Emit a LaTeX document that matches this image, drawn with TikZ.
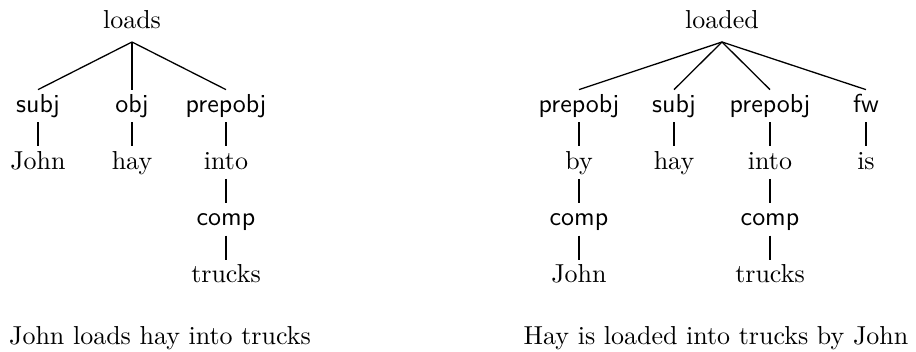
\documentclass[tikz,border=0pt]{standalone}
\usepackage{tikz}
\usetikzlibrary{positioning}

\begin{document}
\begin{tikzpicture}[x=0.385pt, y=-0.385pt,
  word/.style={font=\rmfamily, inner sep=1.6pt, text height=7pt, text depth=2pt},
  head/.style={word, inner sep=3pt},
  rel/.style={word, font=\sffamily},
  edge/.style={line width=0.5pt},
  node distance=9.2pt]
  \useasboundingbox (0,0) rectangle (916,352);

  % John loads hay into trucks
  \node[head] (loads) at (132,22) {loads};
  \node[rel] (subjA) at (38,106) {subj};
  \node[rel] (objA) at (132,106) {obj};
  \node[rel] (prepA) at (226,106) {prepobj};
  \node[word, below=of subjA] (johnA) {John};
  \node[word, below=of objA] (hayA) {hay};
  \node[word, below=of prepA] (intoA) {into};
  \node[rel, below=of intoA] (compA) {comp};
  \node[word, below=of compA] (trucksA) {trucks};
  \node[word] (capA) at (160,338) {John loads hay into trucks};

  % Hay is loaded into trucks by John
  \node[head] (loaded) at (722,22) {loaded};
  \node[rel] (prepB) at (579,106) {prepobj};
  \node[rel] (subjB) at (674,106) {subj};
  \node[rel] (prepC) at (770,106) {prepobj};
  \node[rel] (fwB) at (866,106) {fw};
  \node[word, below=of prepB] (byB) {by};
  \node[rel, below=of byB] (compB) {comp};
  \node[word, below=of compB] (johnB) {John};
  \node[word, below=of subjB] (hayB) {hay};
  \node[word, below=of prepC] (intoB) {into};
  \node[rel, below=of intoB] (compC) {comp};
  \node[word, below=of compC] (trucksB) {trucks};
  \node[word, below=of fwB] (isB) {is};
  \node[word] (capB) at (716,338) {Hay is loaded into trucks by John};

  \foreach \a/\b in {loads/subjA, loads/objA, loads/prepA, subjA/johnA, objA/hayA,
      prepA/intoA, intoA/compA, compA/trucksA,
      loaded/prepB, loaded/subjB, loaded/prepC, loaded/fwB, prepB/byB, byB/compB,
      compB/johnB, subjB/hayB, prepC/intoB, intoB/compC, compC/trucksB, fwB/isB}
    \draw[edge] (\a.south) -- (\b.north);
\end{tikzpicture}
\end{document}
